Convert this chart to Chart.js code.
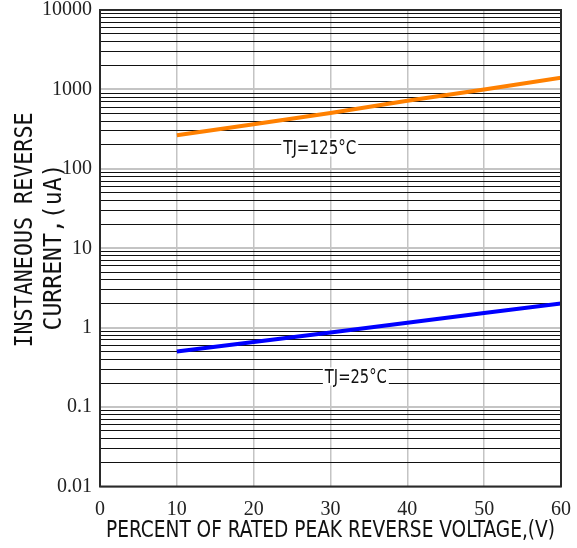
<!DOCTYPE html>
<html>
<head>
<meta charset="utf-8">
<script src="https://cdn.jsdelivr.net/npm/chart.js@4"></script>
<style>
  html, body { margin: 0; padding: 0; background: #fff; }
  #wrap { width: 577px; height: 548px; }
</style>
</head>
<body>
<div id="wrap"><canvas id="chart"></canvas></div>
<script>
// percent of rated peak reverse voltage
const voltagePct = [10, 20, 30, 40, 50, 60];
// instantaneous reverse current (uA)
const current125 = [265, 365, 505, 720, 1000, 1400];
const current25 = [0.50, 0.66, 0.87, 1.15, 1.53, 2.02];

const xTicks = [0, 10, 20, 30, 40, 50, 60];
const yDecades = [0.01, 0.1, 1, 10, 100, 1000, 10000];
const yDecadeLabels = ["0.01", "0.1", "1", "10", "100", "1000", "10000"];

const seriesLabels = ["TJ=125\u00B0C", "TJ=25\u00B0C"];
// where the curve labels sit, in data units
const labelAt = [[28.6, 186], [33.3, 0.243]];

const yTitle = ["INSTANEOUS REVERSE", "CURRENT,(uA)"];
const xTitle = "PERCENT OF RATED PEAK REVERSE VOLTAGE,(V)";

const toPoints = (xs, ys) => xs.map((x, i) => ({ x: x, y: ys[i] }));

// every 1..9 x 10^n between the decades
const yGridValues = [];
yDecades.forEach((d, i) => {
    if (i === yDecades.length - 1) { yGridValues.push(d); return; }
    for (let k = 1; k <= 9; k++) yGridValues.push(+(d * k).toPrecision(3));
});

const isDecade = v => yDecades.some(d => Math.abs(d - v) / d < 1e-6);

// kill the automatic label overflow padding so the plot box stays put
const noPad = scale => {
    scale.paddingTop = 0;
    scale.paddingBottom = 0;
    scale.paddingLeft = 0;
    scale.paddingRight = 0;
};

function fitText(ctx, text, x, y, width) {
    const m = ctx.measureText(text).width;
    ctx.save();
    ctx.translate(x, y);
    ctx.scale(width / m, 1);
    ctx.textAlign = "center";
    ctx.fillText(text, 0, 0);
    ctx.restore();
}

const decorations = {
    id: "decorations",
    afterDraw(chart) {
        const ctx = chart.ctx;
        const a = chart.chartArea;
        const xs = chart.scales.x, ys = chart.scales.y;

        // curve labels with white box
        ctx.save();
        ctx.font = "20px 'Liberation Sans Narrow', 'DejaVu Sans Condensed', sans-serif";
        ctx.textBaseline = "middle";
        const widths = [73, 62];
        seriesLabels.forEach((t, i) => {
            const px = xs.getPixelForValue(labelAt[i][0]);
            const py = ys.getPixelForValue(labelAt[i][1]);
            ctx.fillStyle = "#fff";
            ctx.fillRect(px - widths[i] / 2 - 2, py - 9, widths[i] + 4, 18);
            ctx.fillStyle = "#111";
            fitText(ctx, t, px, py + 1, widths[i]);
        });
        ctx.restore();

        // frame
        ctx.save();
        ctx.strokeStyle = "#2a2a2a";
        ctx.lineWidth = 2;
        ctx.strokeRect(a.left, a.top, a.right - a.left, a.bottom - a.top);
        ctx.restore();

        // axis titles
        ctx.save();
        ctx.fillStyle = "#111";
        ctx.textBaseline = "middle";
        ctx.font = "25px 'DejaVu Sans Mono', monospace";
        ctx.save();
        ctx.translate(25, 230);
        ctx.rotate(-Math.PI / 2);
        fitText(ctx, yTitle[0], 0, 0, 235);
        ctx.restore();
        ctx.save();
        ctx.translate(54, 247);
        ctx.rotate(-Math.PI / 2);
        fitText(ctx, yTitle[1], 0, 0, 167);
        ctx.restore();

        ctx.font = "23px 'Liberation Sans Narrow', 'DejaVu Sans Condensed', sans-serif";
        ctx.textBaseline = "alphabetic";
        fitText(ctx, xTitle, 330.5, 537, 449);
        ctx.restore();
    }
};

new Chart(document.getElementById("chart"), {
    type: "line",
    data: {
        datasets: [
            {
                label: seriesLabels[0],
                data: toPoints(voltagePct, current125),
                borderColor: "#ff8000",
                borderWidth: 4,
                pointRadius: 0,
                tension: 0
            },
            {
                label: seriesLabels[1],
                data: toPoints(voltagePct, current25),
                borderColor: "#0000ff",
                borderWidth: 4,
                pointRadius: 0,
                tension: 0
            }
        ]
    },
    options: {
        responsive: true,
        maintainAspectRatio: false,
        animation: false,
        layout: {
            padding: { left: 0, right: 16, top: 10, bottom: 0 }
        },
        plugins: {
            legend: { display: false },
            tooltip: { enabled: false }
        },
        scales: {
            x: {
                type: "linear",
                min: 0,
                max: 60,
                afterBuildTicks: scale => { scale.ticks = xTicks.map(v => ({ value: v })); },
                afterFit: scale => { scale.height = 61.5; noPad(scale); },
                border: { display: false },
                grid: {
                    drawTicks: false,
                    color: "#c4c4c4",
                    lineWidth: 1.5
                },
                ticks: {
                    padding: 11,
                    color: "#222",
                    font: { family: "'Liberation Serif', serif", size: 20 },
                    maxRotation: 0
                }
            },
            y: {
                type: "logarithmic",
                min: 0.01,
                max: 10000,
                afterBuildTicks: scale => { scale.ticks = yGridValues.map(v => ({ value: v })); },
                afterFit: scale => { scale.width = 100; noPad(scale); },
                border: { display: false },
                grid: {
                    drawTicks: false,
                    color: c => isDecade(c.tick.value) ? "#c4c4c4" : "#111",
                    lineWidth: c => isDecade(c.tick.value) ? 2 : 1
                },
                ticks: {
                    autoSkip: false,
                    padding: 8,
                    color: "#222",
                    font: { family: "'Liberation Serif', serif", size: 20 },
                    callback: v => {
                        const i = yDecades.findIndex(d => Math.abs(d - v) / d < 1e-6);
                        return i >= 0 ? yDecadeLabels[i] : "";
                    }
                }
            }
        }
    },
    plugins: [decorations]
});
</script>
</body>
</html>
